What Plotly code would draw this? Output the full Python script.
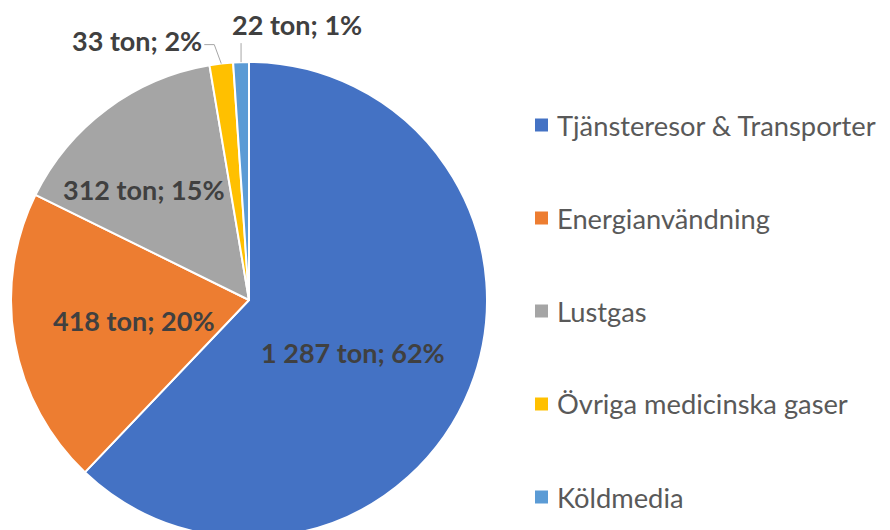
import math
import plotly.graph_objects as go

categories = ["Tjänsteresor & Transporter", "Energianvändning", "Lustgas",
              "Övriga medicinska gaser", "Köldmedia"]
values = [1287, 418, 312, 33, 22]
colors = ["#4472C4", "#ED7D31", "#A5A5A5", "#FFC000", "#5B9BD5"]

# label placement style per slice: inside (radial fraction, angle nudge in deg) or outside
label_style = [
    dict(kind="inside", r=0.49, nudge=5),
    dict(kind="inside", r=0.49, nudge=0),
    dict(kind="inside", r=0.64, nudge=-7),
    dict(kind="outside", dx=-7, dy=-19, run=-10, side="right"),
    dict(kind="outside", dx=0, dy=-19, run=0, side="left"),
]

# The page body has an 8px margin, so work in page pixels and convert.
OFF = 8
W, H = 890 - OFF, 530
FONT = "Lato"
LABEL_SIZE = 27
LEGEND_SIZE = 27.3
LABEL_COLOR = "#404040"


def px(x):
    return (x - OFF) / W


def py(y):
    return 1 - (y - OFF) / H


# pie geometry in page pixels (bottom of pie runs slightly past the window)
PY_TOP = 62
PY_BOT = OFF + H
R = (PY_BOT - PY_TOP) / 2
CX = 249
PX0, PX1 = CX - R, CX + R
CY = PY_TOP + R

total = sum(values)
pct = [v / total for v in values]


def fmt(v):
    return f"{v:,}".replace(",", " ")


labels_text = [f"{fmt(v)} ton; {round(p * 100)}%" for v, p in zip(values, pct)]

fig = go.Figure()
fig.add_trace(go.Pie(
    labels=categories,
    values=values,
    sort=False,
    direction="clockwise",
    rotation=0,
    marker=dict(colors=colors, line=dict(color="white", width=2)),
    textinfo="none",
    textposition="none",
    domain=dict(x=[px(PX0), px(PX1)], y=[0, py(PY_TOP)]),
    showlegend=False,
    hoverinfo="label+value+percent",
))

lab_font = dict(family=FONT, size=LABEL_SIZE, color=LABEL_COLOR, weight="bold")
cum = 0.0
for i, p in enumerate(pct):
    mid = (cum + p / 2) * 2 * math.pi
    cum += p
    st = label_style[i]
    if st["kind"] == "inside":
        a = mid + math.radians(st["nudge"])
        lx = CX + st["r"] * R * math.sin(a)
        ly = CY - st["r"] * R * math.cos(a)
        fig.add_annotation(xref="paper", yref="paper", x=px(lx), y=py(ly),
                           text=labels_text[i], showarrow=False,
                           xanchor="center", yanchor="middle", font=lab_font)
        continue
    ex = CX + R * math.sin(mid)
    ey = CY - R * math.cos(mid)
    bx, by = ex + st["dx"], ey + st["dy"]
    cx2 = bx + st["run"]
    pts = [(ex, ey), (bx, by), (cx2, by)]
    path = "M " + " L ".join(f"{px(x):.5f},{py(y):.5f}" for x, y in pts)
    fig.add_shape(type="path", xref="paper", yref="paper", path=path,
                  line=dict(color="#A6A6A6", width=1))
    if st["side"] == "right":
        fig.add_annotation(xref="paper", yref="paper", x=px(cx2 - 1), y=py(by - 4),
                           text=labels_text[i], showarrow=False, xanchor="right",
                           yanchor="middle", font=lab_font, borderpad=0)
    else:
        fig.add_annotation(xref="paper", yref="paper", x=px(cx2 - 10), y=py(by - 1),
                           text=labels_text[i], showarrow=False, xanchor="left",
                           yanchor="bottom", font=lab_font, borderpad=0)

# legend drawn as squares + text
top_y, step = 125, 93
for i, (lab, col) in enumerate(zip(categories, colors)):
    yc = top_y + i * step
    fig.add_shape(type="rect", xref="paper", yref="paper",
                  x0=px(535), x1=px(548), y0=py(yc - 6.5), y1=py(yc + 6.5),
                  fillcolor=col, line=dict(width=0))
    fig.add_annotation(xref="paper", yref="paper", x=px(555), y=py(yc),
                       text=lab, showarrow=False, xanchor="left", yanchor="middle",
                       font=dict(family=FONT, size=LEGEND_SIZE, color="#595959"))

fig.update_layout(
    width=W, height=H,
    margin=dict(l=0, r=0, t=0, b=0),
    paper_bgcolor="white",
    font=dict(family=FONT),
)

fig.write_html("out.html")
